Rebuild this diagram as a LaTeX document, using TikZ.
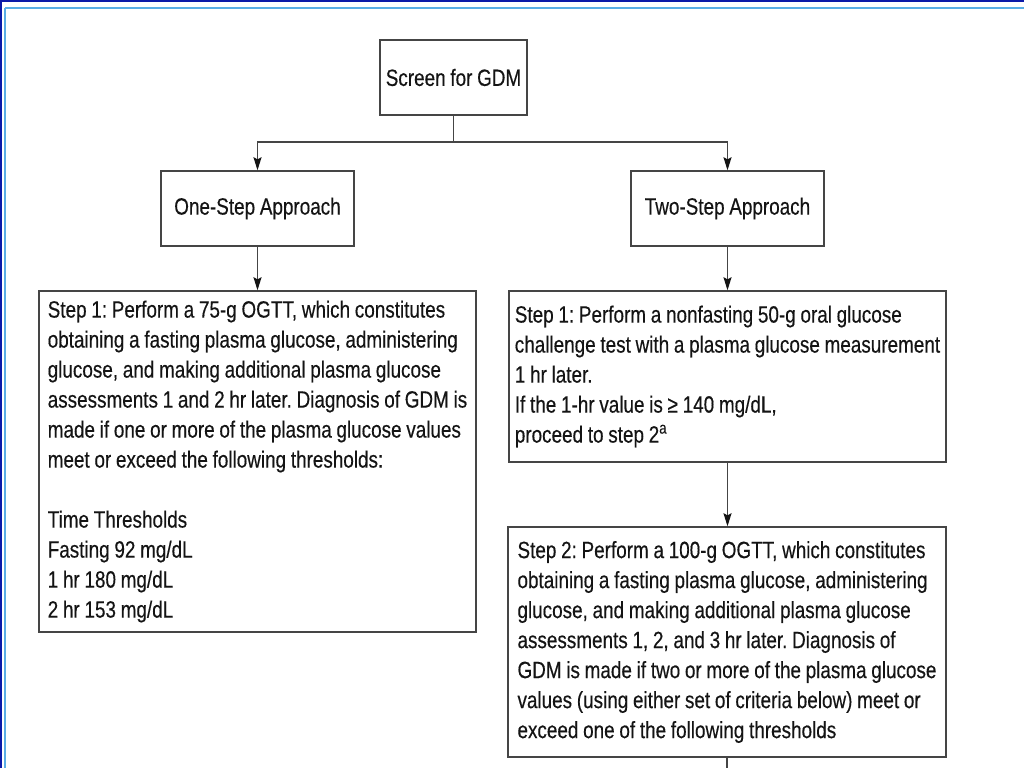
\documentclass[tikz,border=0pt]{standalone}
\usepackage{fontspec}
\setmainfont{Liberation Sans}[FakeStretch=0.804, WordSpace=0.9, FakeBold=0.35]
\usetikzlibrary{arrows.meta}
\definecolor{boxgray}{HTML}{454545}
\definecolor{inkgray}{HTML}{141414}
\definecolor{framenavy}{HTML}{0C1AA8}
\definecolor{framesky}{HTML}{5AAEE6}
\tikzset{
  flowbox/.style={draw=boxgray, line width=1.4bp, text=inkgray, align=left,
    font=\fontsize{23.5bp}{30bp}\selectfont\frenchspacing, inner sep=0pt},
  flowarrow/.style={draw=boxgray, line width=1.4bp,
    -{Stealth[length=13bp,width=8bp,inset=2bp,color=inkgray]}},
}

\begin{document}
\begin{tikzpicture}[x=1bp, y=-1bp]
  \useasboundingbox (0,0) rectangle (1024,768);

  % Slide frame
  \draw[framenavy, line width=2bp] (0,1) -- (1024,1);
  \draw[framenavy, line width=2bp] (1,0) -- (1,768);
  \draw[framesky, line width=2bp] (4.5,8.5) -- (1024,8.5);
  \draw[framesky, line width=2bp] (4.5,8.5) -- (4.5,768);

  % Boxes
  \node[flowbox, minimum width=147bp, minimum height=75bp] (screen) at (453.5,77.5) {Screen for GDM};
  \node[flowbox, minimum width=193bp, minimum height=75bp] (onestep) at (257.5,208.5) {One-Step Approach};
  \node[flowbox, minimum width=193bp, minimum height=75bp] (twostep) at (727.5,208.5) {Two-Step Approach};

  \node[flowbox, minimum width=437bp, minimum height=341bp] (onestepone) at (257.5,461.5) {%
    Step 1: Perform a 75-g OGTT, which constitutes\\
    obtaining a fasting plasma glucose, administering\\
    glucose, and making additional plasma glucose\\
    assessments 1 and 2 hr later. Diagnosis of GDM is\\
    made if one or more of the plasma glucose values\\
    meet or exceed the following thresholds:\\[30bp]
    Time Thresholds\\
    Fasting 92 mg/dL\\
    1 hr 180 mg/dL\\
    2 hr 153 mg/dL};

  \node[flowbox, minimum width=437bp, minimum height=171bp] (twostepone) at (727.5,376.5) {%
    Step 1: Perform a nonfasting 50-g oral glucose\\
    challenge test with a plasma glucose measurement\\
    1 hr later.\\
    If the 1-hr value is ≥ 140 mg/dL,\\
    proceed to step 2\textsuperscript{a}};

  \node[flowbox, minimum width=438bp, minimum height=230bp] (twosteptwo) at (727,642) {%
    Step 2: Perform a 100-g OGTT, which constitutes\\
    obtaining a fasting plasma glucose, administering\\
    glucose, and making additional plasma glucose\\
    assessments 1, 2, and 3 hr later. Diagnosis of\\
    GDM is made if two or more of the plasma glucose\\
    values (using either set of criteria below) meet or\\
    exceed one of the following thresholds};

  % Connectors
  \coordinate (split) at (453.5,142);
  \coordinate (cont) at (727,768);
  \draw[boxgray, line width=1.4bp] (screen.south) -- (split);
  \draw[flowarrow] (split) -| (onestep.north);
  \draw[flowarrow] (split) -| (twostep.north);
  \draw[flowarrow] (onestep.south) -- (onestepone.north);
  \draw[flowarrow] (twostep.south) -- (twostepone.north);
  \draw[flowarrow] (twostepone.south) -- (twosteptwo.north -| twostepone.south);
  \draw[boxgray, line width=1.4bp] (twosteptwo.south) -- (cont);
\end{tikzpicture}
\end{document}
